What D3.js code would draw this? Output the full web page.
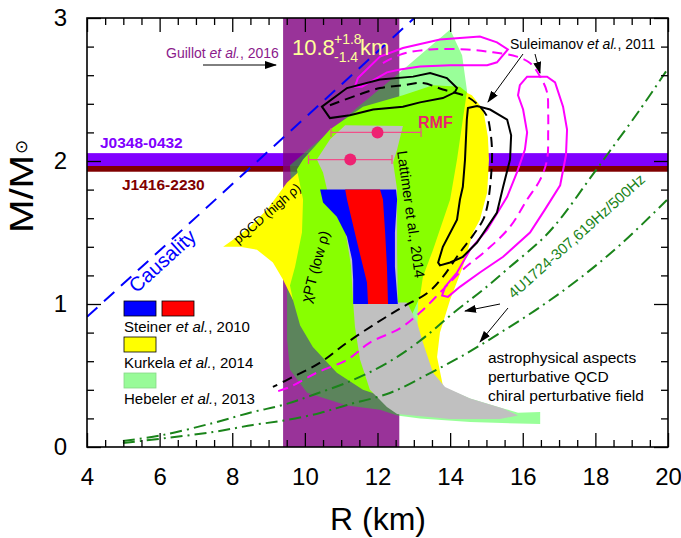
<!DOCTYPE html>
<html>
<head>
<meta charset="utf-8">
<script src="https://cdn.jsdelivr.net/npm/d3@7"></script>
<style>
  body { margin: 0; background: #fff; }
  svg { font-family: "Liberation Sans", Arial, sans-serif; }
</style>
</head>
<body>
<div id="chart"></div>
<script>
// ---- data (R in km, M in solar masses) ----
const guillotR = [9.4, 12.6];
const j0348M = [1.965, 2.055];
const j1416M = [1.925, 1.965];

const causality = [[4, 0.91], [13.1, 3.02]];

const hebeler = [[9.59,1.97],[9.65,1.73],[9.59,1.38],[9.51,1.10],[9.51,0.75],[9.59,0.54],[10.06,0.38],
  [11.16,0.29],[12.07,0.26],[12.54,0.22],[13.17,0.20],[14.55,0.175],[16.48,0.16],[16.48,0.245],
  [15.87,0.24],[15.46,0.27],[14.55,0.34],[13.80,0.42],[13.53,0.63],[13.67,0.82],[14.00,1.10],
  [14.41,1.45],[14.60,1.87],[14.55,2.29],[14.46,2.50],[14.33,2.74],[14.00,2.92],[12.62,2.62],[11.52,2.39]];

const kurkela = [[7.75,1.40],[8.02,1.45],[8.49,1.54],[8.96,1.66],[9.51,1.85],[9.81,1.92],[10.06,1.99],
  [10.69,2.20],[11.60,2.36],[12.70,2.44],[13.53,2.51],[14.27,2.50],[14.60,2.46],[14.91,2.36],
  [15.04,2.17],[15.07,2.01],[15.02,1.78],[14.82,1.59],[14.63,1.50],[14.35,1.26],[14.00,1.03],
  [13.72,0.80],[13.64,0.63],[13.80,0.43],[13.64,0.43],[13.53,0.52],[13.25,0.63],[13.09,0.75],
  [13.12,1.03],[9.87,1.06],[9.67,1.03],[9.40,1.17],[9.12,1.29],[8.68,1.38],[8.21,1.40]];

const lattimer = [[9.78,1.94],[9.95,2.01],[10.69,2.22],[11.60,2.38],[12.70,2.46],[13.53,2.53],
  [14.27,2.52],[14.46,2.48],[14.35,2.29],[14.19,2.01],[14.00,1.73],[13.53,1.38],[13.25,1.19],
  [13.17,1.05],[12.76,0.82],[12.21,0.40],[12.07,0.36],[11.60,0.40],[10.88,0.52],[10.22,0.70],
  [9.87,0.85],[9.67,1.03],[9.59,1.13],[9.73,1.26],[9.92,1.50],[9.95,1.73]];

const rmfRegion = [[11.11,2.25],[12.70,2.245],[12.54,2.08],[12.43,1.99],[12.54,1.80],[12.54,1.38],
  [12.56,1.01],[12.81,1.01],[13.09,0.87],[13.25,0.73],[13.53,0.52],[13.86,0.42],[14.55,0.34],
  [15.46,0.27],[15.87,0.22],[15.37,0.196],[14.00,0.196],[12.54,0.23],[12.26,0.28],[11.79,0.40],
  [11.52,0.61],[11.38,0.84],[11.33,1.01],[11.27,1.27],[11.11,1.52],[10.61,1.80],[10.50,1.92],
  [10.33,2.01],[10.69,2.15]];

const steinerBlue = [[10.42,1.80],[12.51,1.80],[12.54,1.73],[12.48,1.50],[12.48,1.26],[12.56,1.00],
  [11.33,1.00],[11.33,1.17],[11.30,1.31],[11.16,1.47],[10.88,1.61],[10.50,1.71]];
const steinerRed = [[11.11,1.80],[12.07,1.80],[12.15,1.73],[12.21,1.50],[12.26,1.26],[12.29,1.00],
  [11.74,1.00],[11.71,1.15],[11.44,1.43],[11.16,1.73]];

const blackSolidA = [[10.47,2.38],[11.16,2.51],[12.07,2.57],[12.98,2.59],[13.45,2.615],[13.91,2.58],
  [14.19,2.51],[14.13,2.48],[13.80,2.44],[13.17,2.41],[12.70,2.38],[11.88,2.36],[11.24,2.32],[10.69,2.30]];
const blackSolidB = [[14.49,2.37],[14.74,2.385],[15.10,2.36],[15.57,2.29],[15.68,2.18],[15.65,2.01],
  [15.46,1.82],[15.29,1.64],[14.74,1.43],[14.35,1.33],[14.00,1.29],[13.72,1.27],[13.67,1.29],
  [13.80,1.40],[14.19,1.59],[14.27,1.73],[14.35,1.82],[14.41,2.01],[14.46,2.29]];
const blackDashed = [[10.69,2.39],[11.44,2.46],[12.07,2.51],[12.70,2.53],[13.25,2.545],[13.80,2.50],
  [14.46,2.45],[14.82,2.38],[15.02,2.31],[15.10,2.22],[15.15,2.10],[15.15,1.99],[15.10,1.82],
  [15.02,1.68],[14.91,1.59],[14.63,1.48],[14.27,1.36],[13.80,1.19],[13.39,1.08],[12.70,0.98],
  [11.99,0.87],[11.16,0.73],[10.42,0.59],[9.67,0.49],[9.12,0.42]];

const magentaSolidA = [[11.38,2.52],[11.46,2.58],[12.07,2.73],[12.70,2.79],[13.72,2.85],[14.82,2.87],
  [15.29,2.83],[15.59,2.78],[15.29,2.69],[15.02,2.67],[14.00,2.67],[13.17,2.66],[12.62,2.64],
  [12.26,2.62],[11.57,2.52]];
const magentaSolidB = [[15.92,2.53],[16.12,2.59],[16.67,2.59],[16.89,2.55],[17.11,2.38],[17.22,2.22],
  [17.19,2.04],[17.03,1.83],[16.61,1.66],[16.20,1.50],[15.46,1.33],[14.82,1.22],[14.27,1.12],
  [13.94,1.05],[13.78,1.06],[13.86,1.12],[14.19,1.22],[14.55,1.38],[15.02,1.52],[15.57,1.75],
  [15.84,1.92],[16.06,2.08],[16.12,2.20],[16.01,2.36],[15.87,2.46]];
const magentaDashed = [[12.15,2.685],[12.70,2.75],[13.45,2.78],[14.46,2.78],[15.18,2.76],[15.84,2.73],
  [16.20,2.685],[16.48,2.59],[16.67,2.48],[16.70,2.34],[16.70,2.20],[16.67,2.01],[16.48,1.87],
  [16.12,1.73],[15.65,1.54],[15.02,1.38],[14.35,1.24],[13.80,1.10],[13.17,0.94],[12.62,0.83],
  [11.79,0.73],[11.16,0.61],[10.33,0.52],[9.59,0.42],[9.12,0.38]];

const spin619 = [[4.99,0.042],[6.09,0.084],[7.47,0.168],[8.57,0.245],[9.40,0.294],[10.22,0.364],
  [11.33,0.469],[12.26,0.587],[13.09,0.727],[14.19,0.958],[14.91,1.10],[15.65,1.26],[16.56,1.46],
  [17.11,1.62],[17.77,1.85],[18.40,2.07],[19.23,2.36],[19.97,2.636]];
const spin500 = [[4.99,0.028],[6.20,0.063],[7.47,0.105],[8.57,0.154],[9.51,0.189],[10.42,0.238],
  [11.16,0.294],[12.34,0.378],[13.45,0.517],[14.47,0.657],[15.37,0.797],[16.48,0.979],[17.58,1.182],
  [18.68,1.413],[19.97,1.727]];

const rmfR = [12.0, 11.25];
const rmfM = [2.2, 2.01];
const rmfLo = [10.72, 10.1];
const rmfHi = [13.2, 12.4];

const xMajor = [4, 6, 8, 10, 12, 14, 16, 18, 20];
const yMajor = [0, 1, 2, 3];

// ---- layout ----
const width = 681, height = 538;
const margin = { top: 18, left: 87 };
const W = 581, H = 429;

const svg = d3.select("#chart").append("svg")
  .attr("width", width).attr("height", height);

const defs = svg.append("defs");
defs.append("clipPath").attr("id", "plot")
  .append("rect").attr("width", W).attr("height", H);
defs.append("marker").attr("id", "arrow")
  .attr("markerUnits", "userSpaceOnUse")
  .attr("markerWidth", 12).attr("markerHeight", 8)
  .attr("refX", 11).attr("refY", 4).attr("orient", "auto")
  .append("path").attr("d", "M0,0L12,4L0,8Z").attr("fill", "#000");

const x = d3.scaleLinear([4, 20], [0, W]);
const y = d3.scaleLinear([0, 3], [H, 0]);

const g = svg.append("g").attr("transform", `translate(${margin.left},${margin.top})`);
const plot = g.append("g").attr("clip-path", "url(#plot)");

const line = d3.line().x(d => x(d[0])).y(d => y(d[1]));

function shape(data, fill, opacity) {
  plot.append("path")
    .attr("d", line.curve(d3.curveLinearClosed)(data))
    .attr("fill", fill)
    .attr("fill-opacity", opacity == null ? 1 : opacity);
}
function stroke(data, color, curve, dash) {
  plot.append("path")
    .attr("d", line.curve(curve)(data))
    .attr("fill", "none")
    .attr("stroke", color)
    .attr("stroke-width", 2)
    .attr("stroke-dasharray", dash || null);
}

// horizontal pulsar mass bands
plot.append("rect").attr("x", x(4)).attr("width", x(20) - x(4))
  .attr("y", y(j0348M[1])).attr("height", y(j0348M[0]) - y(j0348M[1])).attr("fill", "#8000ff");
plot.append("rect").attr("x", x(4)).attr("width", x(20) - x(4))
  .attr("y", y(j1416M[1])).attr("height", y(j1416M[0]) - y(j1416M[1])).attr("fill", "#800000");

// Guillot et al. radius band
plot.append("rect").attr("x", x(guillotR[0])).attr("width", x(guillotR[1]) - x(guillotR[0]))
  .attr("y", 0).attr("height", H).attr("fill", "#800080").attr("fill-opacity", 0.8);

// constraint regions
shape(hebeler, "#00ff00", 0.4);
shape(kurkela, "#ffff00");
shape(lattimer, "#88ff00");
shape(rmfRegion, "#c0c0c0");
shape(steinerBlue, "#0000ff");
shape(steinerRed, "#ff0000");

// curves
stroke(spin619, "#1a841a", d3.curveCatmullRom, "12,5,2,5");
stroke(spin500, "#1a841a", d3.curveCatmullRom, "12,5,2,5");
stroke(magentaDashed, "#ff00ff", d3.curveCatmullRom, "10,6");
stroke(blackDashed, "#000", d3.curveCatmullRom, "10,6");
stroke(magentaSolidA, "#ff00ff", d3.curveLinearClosed);
stroke(magentaSolidB, "#ff00ff", d3.curveLinearClosed);
stroke(blackSolidA, "#000", d3.curveLinearClosed);
stroke(blackSolidB, "#000", d3.curveLinearClosed);
stroke(causality, "#0000ff", d3.curveLinear, "14,9");

// RMF points with error bars
rmfR.forEach((r, i) => {
  const yy = y(rmfM[i]);
  plot.append("line").attr("x1", x(rmfLo[i])).attr("x2", x(rmfHi[i]))
    .attr("y1", yy).attr("y2", yy).attr("stroke", "#f0508a").attr("stroke-width", 1.2);
  [rmfLo[i], rmfHi[i]].forEach(v => plot.append("line")
    .attr("x1", x(v)).attr("x2", x(v)).attr("y1", yy - 4.5).attr("y2", yy + 4.5)
    .attr("stroke", "#f0508a").attr("stroke-width", 1.2));
  plot.append("circle").attr("cx", x(r)).attr("cy", yy).attr("r", 6).attr("fill", "#ee2272");
});

// ---- axes ----
const tickStyle = sel => {
  sel.select(".domain").remove();
  sel.selectAll("line").attr("stroke", "#000").attr("stroke-width", 1.3);
  sel.selectAll("text").attr("font-size", 24).attr("fill", "#000")
    .attr("font-family", '"Liberation Sans", Arial, sans-serif');
};
const xMinor = d3.range(4, 20.01, 0.5).filter(v => v % 2 !== 0);
const yMinor = d3.range(0, 16).map(i => +(i * 0.2).toFixed(1)).filter((v, i) => i % 5 !== 0);

g.append("g").attr("transform", `translate(0,${H})`)
  .call(d3.axisBottom(x).tickValues(xMajor).tickSize(-14).tickPadding(21).tickFormat(d3.format("d")))
  .call(tickStyle);
g.append("g").attr("transform", `translate(0,${H})`)
  .call(d3.axisBottom(x).tickValues(xMinor).tickSize(-7).tickFormat("")).call(tickStyle);
g.append("g").call(d3.axisTop(x).tickValues(xMajor).tickSize(-14).tickFormat("")).call(tickStyle);
g.append("g").call(d3.axisTop(x).tickValues(xMinor).tickSize(-7).tickFormat("")).call(tickStyle);
g.append("g")
  .call(d3.axisLeft(y).tickValues(yMajor).tickSize(-14).tickPadding(20).tickFormat(d3.format("d")))
  .call(tickStyle);
g.append("g").call(d3.axisLeft(y).tickValues(yMinor).tickSize(-7).tickFormat("")).call(tickStyle);
g.append("g").attr("transform", `translate(${W},0)`)
  .call(d3.axisRight(y).tickValues(yMajor).tickSize(-14).tickFormat("")).call(tickStyle);
g.append("g").attr("transform", `translate(${W},0)`)
  .call(d3.axisRight(y).tickValues(yMinor).tickSize(-7).tickFormat("")).call(tickStyle);

g.append("rect").attr("width", W).attr("height", H)
  .attr("fill", "none").attr("stroke", "#000").attr("stroke-width", 1.6);

// axis titles
svg.append("text").attr("x", 378).attr("y", 530).attr("text-anchor", "middle")
  .attr("font-size", 32).text("R (km)");
const yt = svg.append("text").attr("transform", "translate(33,233) rotate(-90)")
  .attr("font-size", 33);
yt.append("tspan").text("M/M").attr("textLength", 78).attr("lengthAdjust", "spacingAndGlyphs");
yt.append("tspan").text("\u2299").attr("font-size", 17).attr("dx", 1).attr("dy", -6);

// ---- annotations ----
function rich(px, py, parts, size, color) {
  const t = svg.append("text").attr("x", px).attr("y", py)
    .attr("font-size", size).attr("fill", color || "#000");
  parts.forEach(p => t.append("tspan").text(p[0]).attr("font-style", p[1] ? "italic" : null));
  return t;
}
function arrow(x1, y1, x2, y2) {
  svg.append("line").attr("x1", x1).attr("y1", y1).attr("x2", x2).attr("y2", y2)
    .attr("stroke", "#000").attr("stroke-width", 1).attr("marker-end", "url(#arrow)");
}

rich(166, 58, [["Guillot "], ["et al.", true], [", 2016"]], 14, "#8b1a8b");
arrow(203, 65, 276, 65);

const gt = svg.append("text").attr("fill", "#ffff99");
gt.append("tspan").attr("x", 292).attr("y", 55).attr("font-size", 22).text("10.8");
gt.append("tspan").attr("x", 334).attr("y", 44).attr("font-size", 14).text("+1.8");
gt.append("tspan").attr("x", 334).attr("y", 62).attr("font-size", 14).text("-1.4");
gt.append("tspan").attr("x", 360).attr("y", 55).attr("font-size", 22).text("km");

svg.append("text").attr("x", 100).attr("y", 148).attr("font-size", 15.5)
  .attr("font-weight", "bold").attr("fill", "#8000ff").text("J0348-0432");
svg.append("text").attr("x", 122).attr("y", 190).attr("font-size", 15.5)
  .attr("font-weight", "bold").attr("fill", "#800000").text("J1416-2230");

svg.append("text").attr("transform", "translate(167,266) rotate(-42.3)")
  .attr("text-anchor", "middle").attr("font-size", 20).attr("fill", "#0000ff").text("Causality");

svg.append("text").attr("transform", "translate(270,217) rotate(-41)")
  .attr("text-anchor", "middle").attr("font-size", 13).text("pQCD (high \u03c1)");
svg.append("text").attr("transform", "translate(320,268) rotate(-75)")
  .attr("text-anchor", "middle").attr("font-size", 14.5).text("\u03c7PT (low \u03c1)");
svg.append("text").attr("transform", "translate(406,215) rotate(82)")
  .attr("text-anchor", "middle").attr("font-size", 14.5).text("Lattimer et al., 2014");

svg.append("text").attr("x", 418).attr("y", 128).attr("font-size", 16)
  .attr("font-weight", "bold").attr("fill", "#e8226e").text("RMF");

rich(510, 49, [["Suleimanov "], ["et al.", true], [", 2011"]], 14);
arrow(523, 54, 488, 102);
arrow(535, 54, 540, 73);

svg.append("text").attr("transform", "translate(580,240) rotate(-41.8)")
  .attr("text-anchor", "middle").attr("font-size", 15).attr("fill", "#1a841a")
  .text("4U1724-307,619Hz/500Hz");
arrow(500, 304, 465, 311);
arrow(508, 308, 480, 342);

["astrophysical aspects", "perturbative QCD", "chiral perturbative field"].forEach((s, i) =>
  svg.append("text").attr("x", 488).attr("y", 363 + i * 19).attr("font-size", 15.5).text(s));

// legend
const legend = [
  { y: 301, fills: ["#0000ff", "#ff0000"], border: "#000", label: [["Steiner "], ["et al.", true], [", 2010"]] },
  { y: 337, fills: ["#ffff00"], border: "#000", label: [["Kurkela "], ["et al.", true], [", 2014"]] },
  { y: 373, fills: ["#98fb98"], border: "#88d888", label: [["Hebeler "], ["et al.", true], [", 2013"]] }
];
legend.forEach(l => {
  l.fills.forEach((f, i) => svg.append("rect").attr("x", 124 + i * 38).attr("y", l.y)
    .attr("width", 32).attr("height", 15).attr("fill", f)
    .attr("stroke", l.border).attr("stroke-width", 0.8));
  rich(124, l.y + 31, l.label, 15);
});
</script>
</body>
</html>
